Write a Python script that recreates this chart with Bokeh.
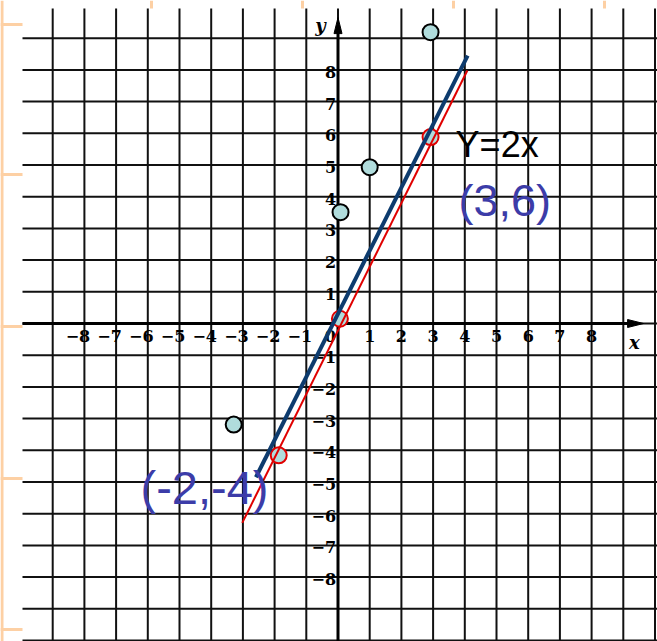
from bokeh.plotting import figure
from bokeh.models import Range1d, Label
from bokeh.core.properties import value
from bokeh.embed import file_html
from bokeh.resources import INLINE

# ---- data ----
grid_x = list(range(-9, 11))          # vertical grid lines
grid_y = list(range(-10, 10))         # horizontal grid lines
x_neg_ticks = [-8, -7, -6, -5, -4, -3, -2, -1]
x_neg_labels = ["−8", "−7", "−6", "−5", "−4", "−3", "−2", "−1"]
x_pos_ticks = [1, 2, 3, 4, 5, 6, 7, 8]
x_pos_labels = ["1", "2", "3", "4", "5", "6", "7", "8"]
y_ticks = [8, 7, 6, 5, 4, 3, 2, 1, -1, -2, -3, -4, -5, -6, -7, -8]
y_labels = ["8", "7", "6", "5", "4", "3", "2", "1",
            "−1", "−2", "−3", "−4", "−5", "−6", "−7", "−8"]

blue_x = [-2.59, 4.09]
blue_y = [-4.85, 8.45]
red_x = [-3.02, 4.08]
red_y = [-6.29, 7.98]
red_pts_x = [-1.87, 0.06, 2.92]
red_pts_y = [-4.16, 0.15, 5.88]
cyan_x = [-3.29, 0.08, 1.0, 2.92]
cyan_y = [-3.19, 3.51, 4.93, 9.19]

# ---- figure ----
W, H = 657, 641
PX = 31.7          # pixels per unit
OX, OY = 337.5, 323.0   # pixel position of the origin
X0, X1 = (0 - OX) / PX, (W - OX) / PX
Y0, Y1 = (OY - H) / PX, (OY - 0) / PX
PAPER_LEFT = (22 - OX) / PX
PAPER_TOP = (OY - 8) / PX

p = figure(width=W, height=H, x_range=Range1d(X0, X1), y_range=Range1d(Y0, Y1),
           output_backend="svg", toolbar_location=None, min_border=0,
           x_axis_type=None, y_axis_type=None)
p.grid.visible = False
p.outline_line_color = None
p.background_fill_color = "white"
p.border_fill_color = "white"

# orange decoration around the paper
orange = "#fdd0a4"
orange_y = [(OY - py) / PX for py in (24, 174, 326, 478, 629)]
p.segment(x0=[X0] * len(orange_y), y0=orange_y, x1=[PAPER_LEFT] * len(orange_y), y1=orange_y,
          line_color=orange, line_width=3)
p.segment(x0=[(1.5 - OX) / PX], y0=[Y0], x1=[(1.5 - OX) / PX], y1=[Y1],
          line_color=orange, line_width=3)
orange_x = [(px - OX) / PX for px in (151, 302, 453, 604)]
p.segment(x0=orange_x, y0=[PAPER_TOP] * 4, x1=orange_x, y1=[Y1] * 4,
          line_color=orange, line_width=3)

# grid paper
p.segment(x0=grid_x, y0=[Y0 - 1] * len(grid_x), x1=grid_x, y1=[PAPER_TOP] * len(grid_x),
          line_color="#111111", line_width=2)
p.segment(x0=[PAPER_LEFT] * len(grid_y), y0=grid_y, x1=[X1 + 1] * len(grid_y), y1=grid_y,
          line_color="#111111", line_width=2)

# axes
p.segment(x0=[PAPER_LEFT], y0=[0], x1=[9.3], y1=[0], line_color="black", line_width=3)
p.segment(x0=[0], y0=[Y0 - 1], x1=[0], y1=[9.3], line_color="black", line_width=3)
ah_len, ah_w = 16 / PX, 4 / PX
p.patch(x=[9.64, 9.64 - ah_len, 9.64 - ah_len], y=[0, ah_w, -ah_w], color="black")
p.patch(x=[0, ah_w, -ah_w], y=[9.65, 9.65 - ah_len, 9.65 - ah_len], color="black")

tick_font = value("DejaVu Serif")
fs = "16px"
p.text(x=x_neg_ticks, y=[-0.38] * 8, text=x_neg_labels, text_font=tick_font,
       text_font_style="bold", text_font_size=fs, text_align="center",
       text_baseline="middle", x_offset=-6.5, text_color="black")
p.text(x=x_pos_ticks, y=[-0.38] * 8, text=x_pos_labels, text_font=tick_font,
       text_font_style="bold", text_font_size=fs, text_align="center",
       text_baseline="middle", text_color="black")
p.text(x=[-0.06] * len(y_ticks), y=y_ticks, text=y_labels, text_font=tick_font,
       text_font_style="bold", text_font_size=fs, text_align="right",
       text_baseline="middle", y_offset=2, text_color="black")
p.text(x=[-0.24], y=[-0.38], text=["0"], text_font=tick_font,
       text_font_style="bold", text_font_size=fs, text_align="center",
       text_baseline="middle", text_color="black")
p.text(x=[9.35, -0.55], y=[-0.6, 9.4], text=["x", "y"], text_font=tick_font,
       text_font_style="bold italic", text_font_size="18px", text_align="center",
       text_baseline="middle", text_color="black")

# marked points on red line
p.scatter(red_pts_x, red_pts_y, marker="circle", size=16, fill_color="#b0dcdc",
          line_color="#e00000", line_width=2)
# lines
p.line(blue_x, blue_y, line_color="#0d3b6e", line_width=4)
p.line(red_x, red_y, line_color="#e00000", line_width=2)
# cyan points
p.scatter(cyan_x, cyan_y, marker="circle", size=16, fill_color="#b0dcdc",
          line_color="black", line_width=2)

# annotations
p.add_layout(Label(x=3.71, y=5.65, text="Y=2x", text_font="Liberation Sans",
                   text_font_size="36px", text_color="black", text_baseline="alphabetic"))
p.add_layout(Label(x=3.8, y=3.88, text="(3,6)", text_font="Liberation Sans",
                   text_font_size="45px", text_color="#3c3ca8", text_baseline="alphabetic"))
p.add_layout(Label(x=-6.23, y=-5.17, text="(-2,-4)", text_font="Liberation Sans",
                   text_font_size="47px", text_color="#3c3ca8", text_baseline="alphabetic"))

open("out.html", "w").write(file_html(p, INLINE))
